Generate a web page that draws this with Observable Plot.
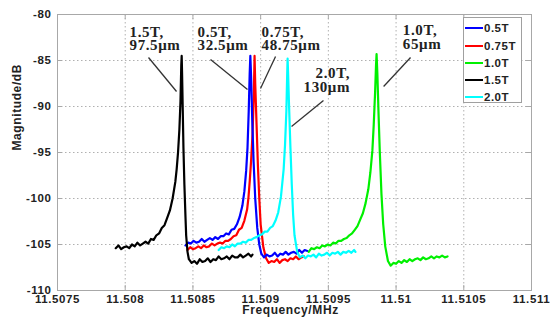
<!DOCTYPE html>
<html><head><meta charset="utf-8">
<script src="https://cdn.jsdelivr.net/npm/d3@7"></script>
<script src="https://cdn.jsdelivr.net/npm/@observablehq/plot@0.6"></script>
<style>
body{margin:0;background:#fff;}
#wrap{position:relative;width:551px;height:321px;overflow:hidden;}
#legend{position:absolute;left:463px;top:17px;width:59px;height:86px;box-sizing:border-box;border:1px solid #a0a0a0;background:#fff;padding-top:1.7px;
  font:bold 11.5px "Liberation Sans",Arial,sans-serif;color:#222;letter-spacing:0.5px;}
.row{display:flex;align-items:center;height:17.25px;}
.sw{width:18px;height:2px;margin-left:1px;margin-right:1px;}
</style></head>
<body><div id="wrap"><div id="chart"></div><div id="legend"></div></div>
<script>
// axis ticks
const xTicks = [11.5075, 11.508, 11.5085, 11.509, 11.5095, 11.51, 11.5105, 11.511];
const yTicks = [-110, -105, -100, -95, -90, -85, -80];
const xLabel = ["Frequency/MHz"];
const yLabel = ["Magnitude/dB"];

// series
const seriesNames = ["0.5T", "0.75T", "1.0T", "1.5T", "2.0T"];
const seriesColors = ["#0000ff", "#ff0000", "#00f000", "#000000", "#00ffff"];

const s15 = [[11.50793,-105.4],[11.50795,-105.1],[11.50797,-105.5],[11.50799,-105.3],[11.50801,-105.2],[11.50803,-105.4],[11.50805,-105.0],[11.50807,-105.2],[11.50809,-104.8],[11.50811,-105.1],[11.50813,-104.9],[11.50815,-104.7],[11.50817,-104.9],[11.50819,-104.4],[11.50821,-104.5],[11.50823,-104.0],[11.50825,-103.8],[11.50827,-103.2],[11.50829,-102.9],[11.50831,-102.1],[11.50833,-101.3],[11.50835,-100.0],[11.50837,-98.2],[11.50838,-96.8],[11.50839,-95.0],[11.5084,-92.5],[11.508408,-89.5],[11.508414,-85.5],[11.508417,-84.5],[11.50842,-86.5],[11.508425,-90.5],[11.50843,-94.5],[11.508437,-98.5],[11.508445,-102.0],[11.50845,-104.0],[11.50846,-105.8],[11.50847,-106.6],[11.50849,-107.0],[11.50851,-106.8],[11.50853,-107.1],[11.50855,-106.6],[11.50857,-106.9],[11.50859,-106.8],[11.50861,-106.5],[11.50863,-106.9],[11.50865,-106.6],[11.50867,-106.7],[11.50869,-106.3],[11.50871,-106.6],[11.50873,-106.5],[11.50875,-106.3],[11.50877,-106.6],[11.50879,-106.2],[11.50881,-106.4],[11.50883,-106.4],[11.50885,-106.1],[11.50887,-106.4],[11.50889,-106.2],[11.50891,-106.0],[11.50893,-106.3],[11.50894,-106.1]];

const s05 = [[11.508445,-105.1],[11.508465,-104.8],[11.508485,-104.9],[11.508505,-104.6],[11.508525,-104.8],[11.508545,-104.7],[11.508565,-104.4],[11.508585,-104.7],[11.508605,-104.5],[11.508625,-104.3],[11.508645,-104.5],[11.508665,-104.2],[11.508685,-104.4],[11.508705,-104.1],[11.508725,-104.1],[11.508745,-103.8],[11.508765,-103.9],[11.508785,-103.4],[11.508805,-103.3],[11.508825,-102.8],[11.508845,-102.0],[11.508865,-100.8],[11.50888,-99.2],[11.508893,-97.0],[11.508903,-94.5],[11.508912,-90.5],[11.508919,-86.5],[11.508924,-84.5],[11.50893,-87.0],[11.508938,-91.5],[11.508948,-96.0],[11.50896,-100.0],[11.508975,-103.2],[11.50899,-105.0],[11.509005,-106.0],[11.509025,-106.4],[11.509045,-106.1],[11.509065,-106.3],[11.509085,-106.2],[11.509105,-105.9],[11.509125,-106.3],[11.509145,-106.0],[11.509165,-106.1],[11.509185,-105.8],[11.509205,-106.1],[11.509225,-105.9],[11.509245,-105.8],[11.509265,-106.0],[11.509285,-105.6],[11.509305,-105.9],[11.509325,-105.6],[11.509345,-105.7]];

const s075 = [[11.50846,-105.6],[11.50848,-105.3],[11.5085,-105.5],[11.50852,-105.4],[11.50854,-105.2],[11.50856,-105.4],[11.50858,-105.1],[11.5086,-105.3],[11.50862,-105.2],[11.50864,-104.9],[11.50866,-105.1],[11.50868,-104.9],[11.5087,-104.8],[11.50872,-104.9],[11.50874,-104.6],[11.50876,-104.6],[11.50878,-104.4],[11.5088,-104.1],[11.50882,-104.0],[11.50884,-103.4],[11.50886,-103.2],[11.50888,-102.4],[11.5089,-101.2],[11.50891,-99.9],[11.50892,-98.0],[11.50893,-95.8],[11.50894,-93.0],[11.50895,-88.5],[11.508955,-84.5],[11.50896,-87.5],[11.50897,-92.0],[11.50898,-96.5],[11.50899,-100.0],[11.509,-102.8],[11.50902,-105.3],[11.50904,-106.5],[11.50906,-107.0],[11.50908,-106.8],[11.5091,-106.9],[11.50912,-106.6],[11.50914,-107.0],[11.50916,-106.7],[11.50918,-106.6],[11.5092,-106.8],[11.50922,-106.5],[11.50924,-106.6],[11.50926,-106.3],[11.50928,-106.6],[11.5093,-106.4],[11.50932,-106.3]];

const s20 = [[11.50869,-105.6],[11.50871,-105.3],[11.50873,-105.4],[11.50875,-105.2],[11.50877,-105.3],[11.50879,-105.0],[11.50881,-105.2],[11.50883,-104.9],[11.50885,-104.9],[11.50887,-104.7],[11.50889,-104.8],[11.50891,-104.5],[11.50893,-104.5],[11.50895,-104.3],[11.50897,-104.2],[11.50899,-104.0],[11.50901,-103.9],[11.50903,-103.6],[11.50905,-103.6],[11.50907,-103.2],[11.50909,-103.0],[11.50911,-102.4],[11.50913,-101.5],[11.50915,-99.8],[11.50917,-96.8],[11.50918,-94.2],[11.50919,-90.5],[11.509196,-86.5],[11.509199,-84.8],[11.509203,-86.5],[11.50921,-90.0],[11.50922,-94.5],[11.50923,-98.5],[11.50924,-101.8],[11.50925,-104.0],[11.50927,-105.8],[11.50929,-106.4],[11.50931,-106.2],[11.50933,-106.5],[11.50935,-106.2],[11.50937,-106.3],[11.50939,-106.1],[11.50941,-106.4],[11.50943,-106.0],[11.50945,-106.2],[11.50947,-106.1],[11.50949,-105.9],[11.50951,-106.2],[11.50953,-105.9],[11.50955,-106.0],[11.50957,-105.8],[11.50959,-106.1],[11.50961,-105.8],[11.50963,-105.9],[11.50965,-105.7],[11.50967,-105.9],[11.50969,-105.6],[11.5097,-105.8]];

const s10 = [[11.509355,-105.8],[11.509375,-105.4],[11.509395,-105.5],[11.509415,-105.3],[11.509435,-105.4],[11.509455,-105.1],[11.509475,-105.2],[11.509495,-105.0],[11.509515,-105.1],[11.509535,-104.8],[11.509555,-104.9],[11.509575,-104.6],[11.509595,-104.6],[11.509615,-104.4],[11.509635,-104.3],[11.509655,-104.0],[11.509675,-103.8],[11.509695,-103.4],[11.509715,-103.0],[11.509735,-102.3],[11.509755,-101.6],[11.509775,-100.5],[11.509795,-99.0],[11.50981,-97.2],[11.509825,-94.8],[11.509835,-92.0],[11.509845,-88.5],[11.509852,-85.5],[11.509856,-84.3],[11.509862,-86.5],[11.50987,-90.5],[11.50988,-95.0],[11.509892,-99.5],[11.509905,-102.8],[11.50992,-105.2],[11.50994,-106.8],[11.50996,-107.3],[11.50998,-107.0],[11.51,-107.1],[11.51002,-106.8],[11.51004,-107.0],[11.51006,-106.7],[11.51008,-106.9],[11.5101,-106.6],[11.51012,-106.8],[11.51014,-106.6],[11.51016,-106.5],[11.51018,-106.7],[11.5102,-106.4],[11.51022,-106.6],[11.51024,-106.5],[11.51026,-106.3],[11.51028,-106.5],[11.5103,-106.3],[11.51032,-106.4],[11.51034,-106.2],[11.51036,-106.4],[11.51038,-106.3]];

// annotations (data coordinates)
const annLeftText = ["1.5T,\n97.5\u03bcm", "0.5T,\n32.5\u03bcm", "0.75T,\n48.75\u03bcm", "1.0T,\n65\u03bcm"];
const annLeftX = [11.508032, 11.508534, 11.509007, 11.51005];
const annLeftY = [-82.66, -82.7, -82.7, -82.5];
const annRightText = ["2.0T,\n130\u03bcm"];
const annRightX = [11.50966];
const annRightY = [-87.17];
const leadX1 = [11.508172, 11.50863, 11.50911, 11.509464, 11.510107];
const leadY1 = [-84.67, -84.89, -84.57, -89.35, -84.67];
const leadX2 = [11.508379, 11.508903, 11.508999, 11.509228, 11.509908];
const leadY2 = [-88.37, -88.15, -88.04, -92.17, -87.83];

// build tables
const seriesData = {"0.5T": s05, "0.75T": s075, "1.0T": s10, "1.5T": s15, "2.0T": s20};
const drawOrder = ["0.75T", "0.5T", "1.5T", "2.0T", "1.0T"];
const rows = drawOrder.flatMap(name => seriesData[name].map(([f, db]) => ({f, db, s: name})));
const annLeft = annLeftText.map((t, i) => ({t, x: annLeftX[i], y: annLeftY[i]}));
const annRight = annRightText.map((t, i) => ({t, x: annRightX[i], y: annRightY[i]}));
const leads = leadX1.map((x1, i) => ({x1, y1: leadY1[i], x2: leadX2[i], y2: leadY2[i]}));

const gray = "#a8a8a8";
const fmt = d => String(+d.toFixed(4));
const xTickLen = 0.000037, yTickLen = 0.55;

const chart = Plot.plot({
  width: 551, height: 321,
  marginLeft: 57, marginRight: 20, marginTop: 14, marginBottom: 31,
  style: {fontFamily: "'Liberation Sans', Arial, sans-serif", fontSize: "11.5px", fontWeight: "bold", color: "#222", background: "#fff", letterSpacing: "0.6px"},
  x: {domain: [11.5075, 11.511]},
  y: {domain: [-110, -80]},
  color: {domain: seriesNames, range: seriesColors},
  marks: [
    Plot.gridX(xTicks.slice(1, -1), {stroke: "#b0b0b0", strokeOpacity: 1, strokeDasharray: "1.5,2.5"}),
    Plot.gridY(yTicks.slice(1, -1), {stroke: "#b0b0b0", strokeOpacity: 1, strokeDasharray: "1.5,2.5"}),
    Plot.ruleX(xTicks, {x: d => d, y1: -110, y2: -110 + yTickLen, stroke: gray}),
    Plot.ruleX(xTicks, {x: d => d, y1: -80, y2: -80 - yTickLen, stroke: gray}),
    Plot.ruleY(yTicks, {y: d => d, x1: 11.5075, x2: 11.5075 + xTickLen, stroke: gray}),
    Plot.ruleY(yTicks, {y: d => d, x1: 11.511, x2: 11.511 - xTickLen, stroke: gray}),
    Plot.frame({stroke: gray}),
    Plot.axisX(xTicks, {tickSize: 0, tickPadding: 4, tickFormat: fmt, label: null, fill: "#222"}),
    Plot.axisY(yTicks, {tickSize: 0, tickPadding: 6, tickFormat: d => String(d), label: null, fill: "#222"}),
    Plot.text(xLabel, {text: d => d, frameAnchor: "bottom", dy: 23, dx: -4, fontSize: 12, fill: "#222", letterSpacing: "0.8px"}),
    Plot.text(yLabel, {text: d => d, frameAnchor: "left", rotate: -90, dx: -40, dy: -2, fontSize: 12, fill: "#222"}),
    Plot.line(rows, {x: "f", y: "db", z: "s", stroke: "s", strokeWidth: 2.2, curve: "linear"}),
    Plot.link(leads, {x1: "x1", y1: "y1", x2: "x2", y2: "y2", stroke: "#333", strokeWidth: 1.3}),
    Plot.text(annLeft, {x: "x", y: "y", text: "t", textAnchor: "start", lineHeight: 0.9, fontSize: 15, fontWeight: "bold", fontFamily: "'Liberation Serif', 'Times New Roman', serif", fill: "#222"}),
    Plot.text(annRight, {x: "x", y: "y", text: "t", textAnchor: "end", lineHeight: 0.95, fontSize: 15, fontWeight: "bold", fontFamily: "'Liberation Serif', 'Times New Roman', serif", fill: "#222"})
  ]
});
document.getElementById("chart").appendChild(chart);

// legend
const legend = document.getElementById("legend");
seriesNames.forEach((name, i) => {
  const row = document.createElement("div");
  row.className = "row";
  const sw = document.createElement("div");
  sw.className = "sw";
  sw.style.background = seriesColors[i];
  const lab = document.createElement("span");
  lab.textContent = name;
  row.appendChild(sw); row.appendChild(lab);
  legend.appendChild(row);
});
</script>
</body></html>
